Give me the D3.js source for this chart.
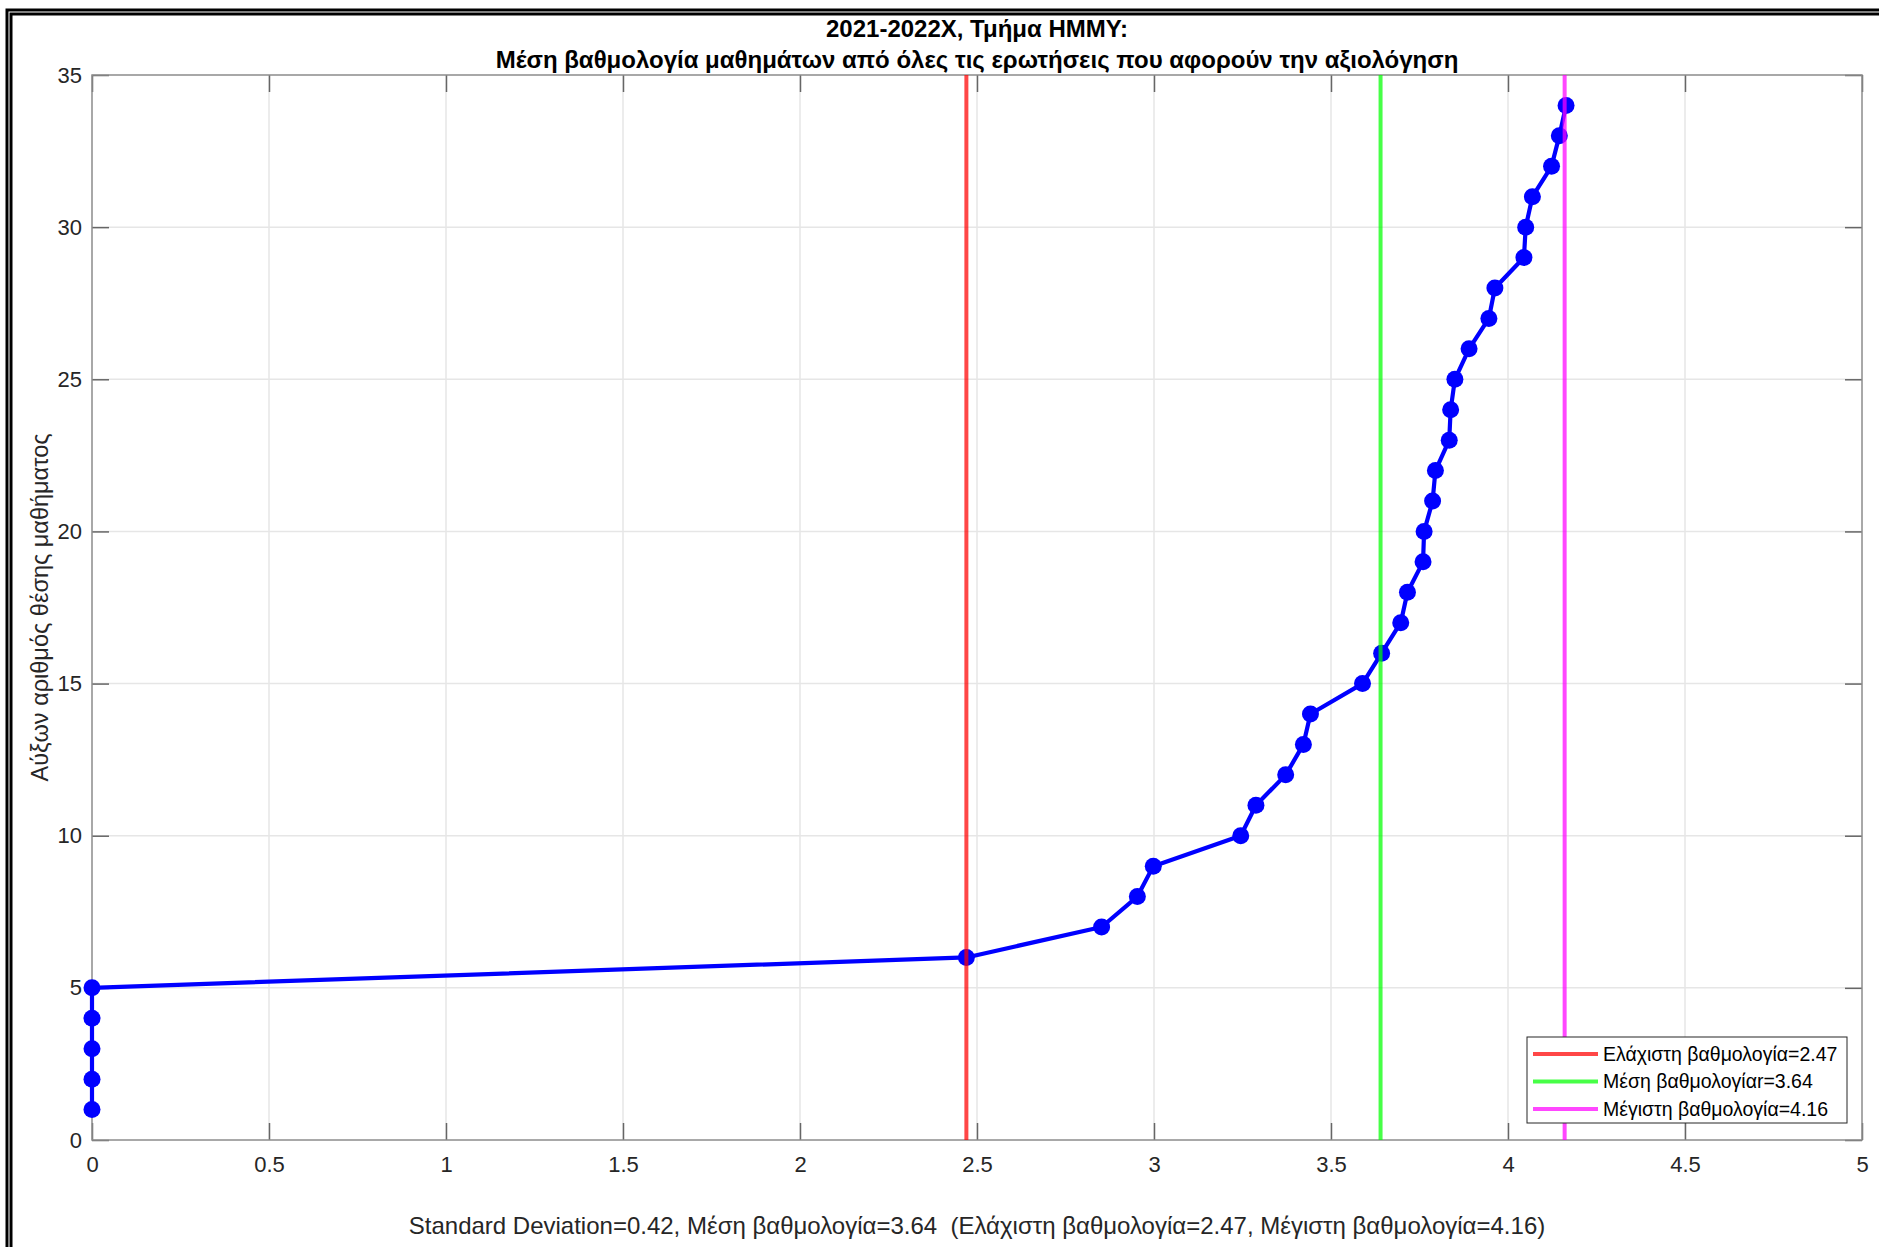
<!DOCTYPE html>
<html>
<head>
<meta charset="utf-8">
<script src="https://cdn.jsdelivr.net/npm/d3@7/dist/d3.min.js"></script>
<style>
  html, body { margin: 0; padding: 0; background: #fff; }
  svg { display: block; font-family: "Liberation Sans", Arial, Helvetica, sans-serif; }
</style>
</head>
<body>
<svg id="chart" width="1879" height="1247"></svg>
<script>
// Course rank (position) and its mean evaluation score
const courseRank = [1, 2, 3, 4, 5, 6, 7, 8, 9, 10, 11, 12, 13, 14, 15, 16, 17,
  18, 19, 20, 21, 22, 23, 24, 25, 26, 27, 28, 29, 30, 31, 32, 33, 34];
const meanScore = [0, 0, 0, 0, 0, 2.47, 2.852, 2.953, 2.998, 3.245, 3.288, 3.372,
  3.422, 3.442, 3.589, 3.643, 3.697, 3.716, 3.760, 3.763, 3.787, 3.795, 3.834,
  3.838, 3.850, 3.890, 3.946, 3.963, 4.045, 4.050, 4.069, 4.123, 4.145, 4.164];

// Reference lines: minimum, mean and maximum score
const refLabels = ["Ελάχιστη βαθμολογία=2.47", "Μέση βαθμολογίαr=3.64", "Μέγιστη βαθμολογία=4.16"];
const refValues = [2.47, 3.64, 4.16];
const refColors = ["#ff0000", "#00ff00", "#ff00ff"];

const xTicks = [0, 0.5, 1, 1.5, 2, 2.5, 3, 3.5, 4, 4.5, 5];
const xTickLabels = ["0", "0.5", "1", "1.5", "2", "2.5", "3", "3.5", "4", "4.5", "5"];
const yTicks = [0, 5, 10, 15, 20, 25, 30, 35];
const yTickLabels = ["0", "5", "10", "15", "20", "25", "30", "35"];

const titleLines = ["2021-2022Χ, Τμήμα ΗΜΜΥ:",
  "Μέση βαθμολογία μαθημάτων από όλες τις ερωτήσεις που αφορούν την αξιολόγηση"];
const yLabel = "Αύξων αριθμός θέσης μαθήματος";
const xLabel = "Standard Deviation=0.42, Μέση βαθμολογία=3.64  (Ελάχιστη βαθμολογία=2.47, Μέγιστη βαθμολογία=4.16)";

const svg = d3.select("#chart");
const W = 1879, H = 1247;
const plotL = 92, plotR = 1862, plotT = 75, plotB = 1140;

const x = d3.scaleLinear().domain([0, 5]).range([plotL, plotR]);
const y = d3.scaleLinear().domain([0, 35]).range([plotB, plotT]);

svg.append("rect").attr("width", W).attr("height", H).attr("fill", "#fff");

// double frame around the figure
svg.append("rect").attr("x", 7).attr("y", 10).attr("width", W + 40).attr("height", H + 40)
  .attr("fill", "none").attr("stroke", "#000").attr("stroke-width", 3);
svg.append("rect").attr("x", 11).attr("y", 14).attr("width", W + 40).attr("height", H + 40)
  .attr("fill", "none").attr("stroke", "#000").attr("stroke-width", 3);

// grid
const grid = svg.append("g");
grid.selectAll("line.gx").data(xTicks.slice(1, -1)).join("line")
  .attr("x1", d => x(d)).attr("x2", d => x(d)).attr("y1", plotT).attr("y2", plotB)
  .attr("stroke", "#e6e6e6").attr("stroke-width", 1.5);
grid.selectAll("line.gy").data(yTicks.slice(1, -1)).join("line")
  .attr("x1", plotL).attr("x2", plotR).attr("y1", d => y(d)).attr("y2", d => y(d))
  .attr("stroke", "#e6e6e6").attr("stroke-width", 1.5);

// axes with inward ticks
const tickLen = 17;
function styleAxis(g) {
  g.select(".domain").remove();
  g.selectAll(".tick line").attr("stroke", "#666").attr("stroke-width", 1.5);
  g.selectAll(".tick text").attr("fill", "#262626").style("font-size", "22px")
    .style("font-family", '"Liberation Sans", Arial, sans-serif');
}
svg.append("g").attr("transform", `translate(0,${plotB})`)
  .call(d3.axisBottom(x).tickValues(xTicks).tickFormat((d, i) => xTickLabels[i])
    .tickSizeInner(-tickLen).tickSizeOuter(0).tickPadding(16))
  .call(styleAxis);
svg.append("g").attr("transform", `translate(0,${plotT})`)
  .call(d3.axisTop(x).tickValues(xTicks).tickFormat("").tickSizeInner(-tickLen).tickSizeOuter(0))
  .call(styleAxis);
svg.append("g").attr("transform", `translate(${plotL},0)`)
  .call(d3.axisLeft(y).tickValues(yTicks).tickFormat((d, i) => yTickLabels[i])
    .tickSizeInner(-tickLen).tickSizeOuter(0).tickPadding(10))
  .call(styleAxis);
svg.append("g").attr("transform", `translate(${plotR},0)`)
  .call(d3.axisRight(y).tickValues(yTicks).tickFormat("").tickSizeInner(-tickLen).tickSizeOuter(0))
  .call(styleAxis);

// axes box
svg.append("rect").attr("x", plotL).attr("y", plotT).attr("width", plotR - plotL).attr("height", plotB - plotT)
  .attr("fill", "none").attr("stroke", "#8c8c8c").attr("stroke-width", 1.5);

// data line and markers
const pts = courseRank.map((r, i) => [meanScore[i], r]);
svg.append("path").datum(pts)
  .attr("d", d3.line().x(d => x(d[0])).y(d => y(d[1])))
  .attr("fill", "none").attr("stroke", "#0000ff").attr("stroke-width", 4.2)
  .attr("stroke-linejoin", "round");
svg.append("g").selectAll("circle").data(pts).join("circle")
  .attr("cx", d => x(d[0])).attr("cy", d => y(d[1])).attr("r", 8.5)
  .attr("fill", "#0000ff");

// reference lines
svg.append("g").selectAll("line").data(refValues).join("line")
  .attr("x1", d => x(d)).attr("x2", d => x(d)).attr("y1", y(35)).attr("y2", y(0))
  .attr("stroke", (d, i) => refColors[i]).attr("stroke-opacity", 0.72).attr("stroke-width", 4);

// legend
const lg = svg.append("g");
lg.append("rect").attr("x", 1527).attr("y", 1037).attr("width", 320).attr("height", 86)
  .attr("fill", "#fff").attr("stroke", "#262626").attr("stroke-width", 1);
refLabels.forEach((t, i) => {
  const cy = 1054 + i * 27.5;
  lg.append("line").attr("x1", 1533).attr("x2", 1598).attr("y1", cy).attr("y2", cy)
    .attr("stroke", refColors[i]).attr("stroke-opacity", 0.72).attr("stroke-width", 4);
  lg.append("text").attr("x", 1603).attr("y", cy).attr("dy", "0.35em")
    .attr("fill", "#000").style("font-size", "19.5px").text(t);
});

// title
svg.append("g").selectAll("text").data(titleLines).join("text")
  .attr("x", (plotL + plotR) / 2).attr("y", (d, i) => 29 + i * 31).attr("dy", "0.35em")
  .attr("text-anchor", "middle").attr("fill", "#000")
  .style("font-size", "24px").style("font-weight", "bold").text(d => d);

// axis labels
svg.append("text").attr("transform", `translate(40,${(plotT + plotB) / 2}) rotate(-90)`)
  .attr("text-anchor", "middle").attr("dy", "0.35em").attr("fill", "#262626")
  .style("font-size", "23.5px").text(yLabel);
svg.append("text").attr("x", (plotL + plotR) / 2).attr("y", 1226).attr("dy", "0.35em")
  .attr("text-anchor", "middle").attr("fill", "#262626")
  .style("font-size", "24px").style("white-space", "pre").text(xLabel);
</script>
</body>
</html>
